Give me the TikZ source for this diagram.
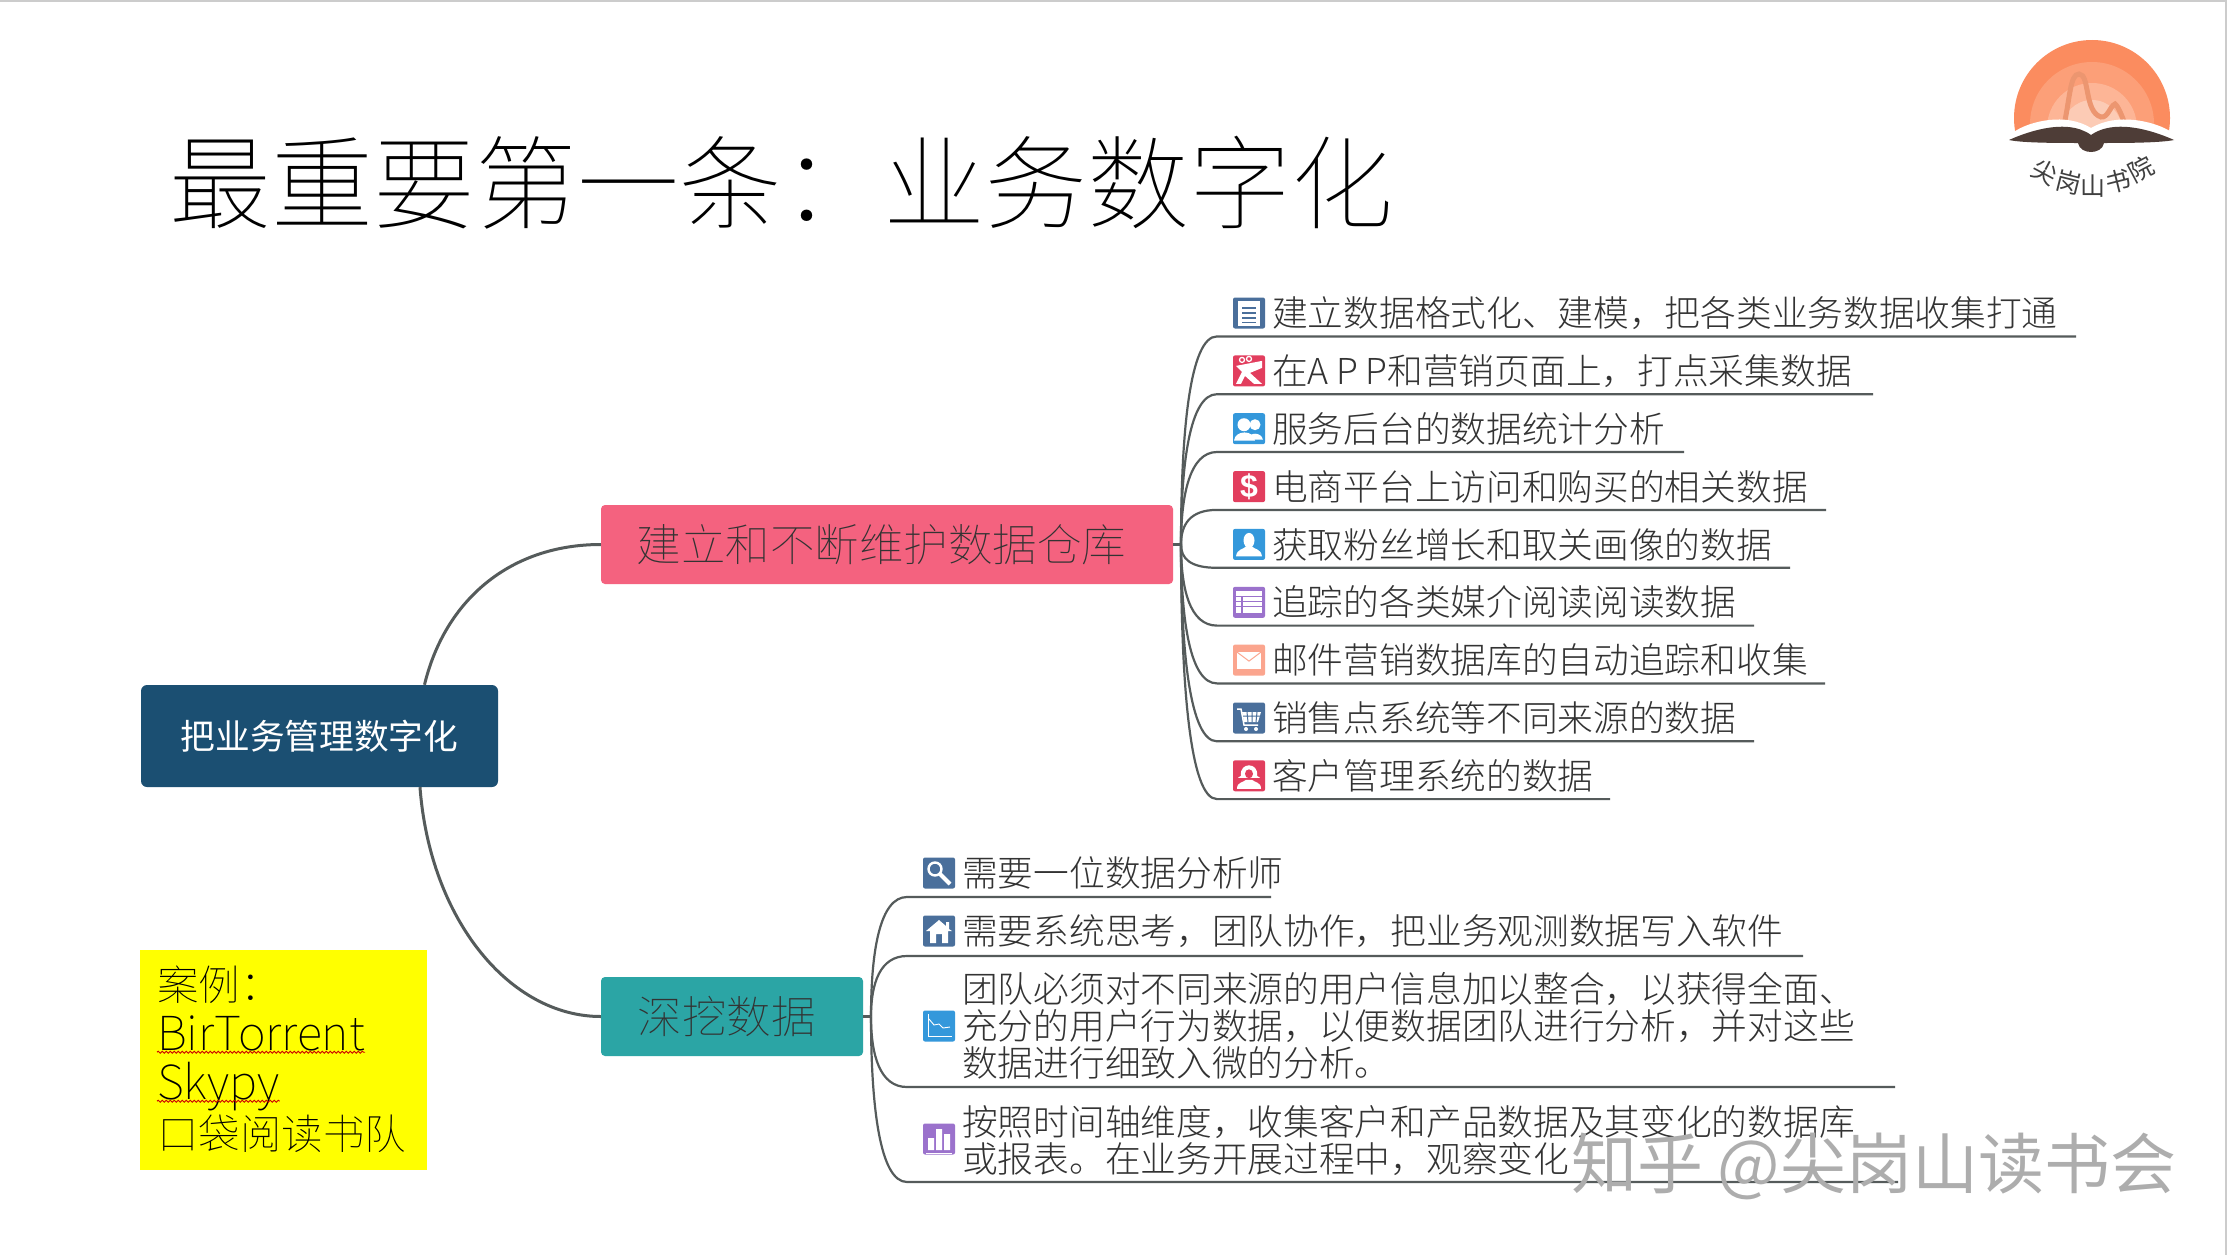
\documentclass[tikz,border=0pt]{standalone}
\usepackage{fontspec}
\setmainfont{Noto Sans CJK SC Light}
\newfontfamily\thinfont{Noto Sans CJK SC Thin}
\newfontfamily\plainfont{Noto Sans CJK SC}
\newfontfamily\glyphfont{Liberation Sans}
\usetikzlibrary{positioning, decorations.pathmorphing}
\definecolor{rootblue}{HTML}{1B4F72}
\definecolor{rosered}{HTML}{F4627F}
\definecolor{tealgreen}{HTML}{2BA5A5}
\definecolor{linkgray}{HTML}{555B5B}
\definecolor{slateicon}{HTML}{4A6F9B}
\definecolor{redicon}{HTML}{E23E5E}
\definecolor{blueicon}{HTML}{3498DB}
\definecolor{purpleicon}{HTML}{9B72CC}
\definecolor{salmonicon}{HTML}{FBA58E}
\definecolor{bookbrown}{HTML}{4E3D37}
\definecolor{caseyellow}{HTML}{FFFF00}
\definecolor{sunA}{HTML}{FB8C5F}
\definecolor{sunB}{HTML}{FC9F78}
\definecolor{sunC}{HTML}{FDB596}
\definecolor{sunD}{HTML}{FCCBB5}
\definecolor{ridge}{HTML}{EC9670}
\tikzstyle{link} = [draw=linkgray, line width=2.2pt]
\tikzstyle{trunk} = [draw=linkgray, line width=3pt]
\tikzstyle{rootbox} = [fill=rootblue, text=white, rounded corners=6pt, minimum width=357pt, minimum height=102pt, inner sep=0pt, font=\plainfont\fontsize{34.7}{40}\selectfont]
\tikzstyle{branchbox} = [rounded corners=4pt, minimum height=79pt, inner sep=0pt, text=black!80, font=\thinfont\fontsize{44.5}{50}\selectfont]
\tikzstyle{iconbox} = [rounded corners=2pt, minimum width=32pt, minimum height=31pt, inner sep=0pt]
\tikzstyle{leaf} = [anchor=west, inner sep=0pt, align=left, text=black!80, font=\fontsize{35.7}{37}\selectfont]
\tikzstyle{casetext} = [anchor=base west, inner sep=0pt, text depth=2pt, font=\thinfont\fontsize{41.5}{44}\selectfont]
\tikzstyle{logotext} = [text=black!75, inner sep=0pt, font=\plainfont\fontsize{25}{25}\selectfont]
\tikzstyle{wavy} = [draw=red!80!black, line width=0.9pt, decorate, decoration={snake, segment length=4pt, amplitude=1pt}]
\newcommand{\iconnote}[1]{\begin{scope}[shift={(#1.center)}]
	\fill[white] (-11,-12) rectangle (11,13);
	\draw[slateicon, line width=1.5pt] (-7,-5) -- (7,-5) (-7,0) -- (7,0) (-7,5) -- (7,5) (-7,9.5) -- (7,9.5);
\end{scope}}
\newcommand{\icongift}[1]{\begin{scope}[shift={(#1.center)}]
	\fill[white] (-13,-5) -- (13,-10) -- (13,-3) -- (1,2) -- (13,13) -- (5,13) -- (-4,5) -- (-8,13) -- (-13,13) -- (-7,1) -- cycle;
	\draw[white, line width=1.3pt] (-7,-11) circle (2.5) (0,-12) circle (2.5);
\end{scope}}
\newcommand{\iconpeople}[1]{\begin{scope}[shift={(#1.center)}]
	\fill[white] (6,-4) circle (5.5) (-1,11) .. controls (0,3) and (12,3) .. (14,11) -- cycle;
	\fill[white] (-5,-4) circle (6.5) (-15,12) .. controls (-14,1) and (5,1) .. (6,12) -- cycle;
\end{scope}}
\newcommand{\iconperson}[1]{\begin{scope}[shift={(#1.center)}]
	\fill[white] (0,-4) ellipse (5.5 and 7.5);
	\fill[white] (-13,12) .. controls (-12,4) and (-5,5) .. (-3,2) -- (3,2) .. controls (5,5) and (12,4) .. (13,12) -- cycle;
\end{scope}}
\newcommand{\icontable}[1]{\begin{scope}[shift={(#1.center)}]
	\fill[white] (-13,-11) rectangle (13,11);
	\draw[purpleicon, line width=1.3pt] (-13,-6) -- (13,-6) (-13,-1) -- (13,-1) (-13,4) -- (13,4) (-7,-6) -- (-7,11);
\end{scope}}
\newcommand{\iconmail}[1]{\begin{scope}[shift={(#1.center)}]
	\fill[white] (-12,-8) rectangle (12,9);
	\draw[salmonicon, line width=1pt] (-12,-8) -- (0,1) -- (12,-8);
\end{scope}}
\newcommand{\iconcart}[1]{\begin{scope}[shift={(#1.center)}]
	\draw[white, line width=1.5pt] (-12,-9) -- (-8,-9) -- (-5,7) -- (9,7);
	\fill[white] (-7,-6) -- (12,-6) -- (9,4) -- (-5,4) -- cycle;
	\draw[slateicon, line width=1pt] (-6,-2) -- (11,-2) (-2,-6) -- (-1,4) (3,-6) -- (3,4) (8,-6) -- (7,4);
	\fill[white] (-3,11) circle (2) (7,11) circle (2);
\end{scope}}
\newcommand{\iconwoman}[1]{\begin{scope}[shift={(#1.center)}]
	\fill[white] (-8,0) .. controls (-10,-14) and (10,-14) .. (8,0) -- (11,2) -- (-11,2) -- cycle;
	\fill[redicon] (0,-2) ellipse (4 and 4.5);
	\fill[white] (-12,13) .. controls (-12,6) and (-6,7) .. (-3,4) -- (3,4) .. controls (6,7) and (12,6) .. (12,13) -- cycle;
\end{scope}}
\newcommand{\iconsearch}[1]{\begin{scope}[shift={(#1.center)}]
	\draw[white, line width=2.4pt] (-4,-4) circle (6.5);
	\draw[white, line width=4pt] (1,1) -- (11,11);
\end{scope}}
\newcommand{\iconhome}[1]{\begin{scope}[shift={(#1.center)}]
	\fill[white] (-13,0) -- (0,-11) -- (7,-5) -- (7,-9) -- (10,-9) -- (10,-2) -- (13,0) -- (9,0) -- (9,12) -- (3,12) -- (3,3) -- (-3,3) -- (-3,12) -- (-9,12) -- (-9,0) -- cycle;
\end{scope}}
\newcommand{\iconchart}[1]{\begin{scope}[shift={(#1.center)}]
	\draw[white, line width=0.9pt] (-11,-12) -- (-11,10) -- (13,10);
	\draw[white, line width=0.9pt] (-10,-7) -- (-5,-1) -- (0,-2) -- (4,2) -- (11,1);
\end{scope}}
\newcommand{\iconbars}[1]{\begin{scope}[shift={(#1.center)}]
	\fill[white] (-11,-1) rectangle (-5,11) (-3,-10) rectangle (3,11) (5,-5) rectangle (11,11);
	\draw[white, line width=0.8pt] (-13,14) -- (13,14);
\end{scope}}
\begin{document}
\begin{tikzpicture}[x=1pt, y=-1pt]
	\useasboundingbox (0,0) rectangle (2229,1255);
	\fill[white] (0,0) rectangle (2229,1255);
	\draw[gray!40, line width=1.5pt] (0,1) -- (2226,1) -- (2226,1255);

	\node[anchor=west, inner sep=0pt, font=\thinfont\fontsize{102}{102}\selectfont] (title) at (169,183) {最重要第一条：业务数字化};

	\begin{scope}
		\clip (2000,30) rectangle (2180,135);
		\fill[sunA] (2092,118) circle (78);
		\fill[sunB] (2092,124) circle (62);
		\fill[sunC] (2092,128) circle (45);
		\fill[sunD] (2092,130) circle (30);
		\draw[ridge, line width=5pt] (2064,125) .. controls (2070,98) and (2070,74) .. (2079,74) .. controls (2090,74) and (2084,112) .. (2101,117) .. controls (2108,118) and (2110,106) .. (2115,104) .. controls (2118,106) and (2122,116) .. (2125,124);
	\end{scope}
	\fill[white] (2005,136) -- (2017,130) .. controls (2030,122) and (2065,112) .. (2091,128) .. controls (2118,112) and (2154,122) .. (2168,130) -- (2180,136) -- (2180,155) -- (2005,155) -- cycle;
	\fill[bookbrown] (2009,140) .. controls (2020,135) and (2065,116) .. (2091,135) .. controls (2118,116) and (2163,135) .. (2174,140) .. controls (2160,143) and (2120,143) .. (2104,143) .. controls (2102,155) and (2080,155) .. (2078,143) .. controls (2060,143) and (2022,143) .. (2009,140) -- cycle;
	\node[logotext, rotate=-28] (logoa) at (2045,172) {尖};
	\node[logotext, rotate=-14] (logob) at (2069,182) {岗};
	\node[logotext] (logoc) at (2093,186) {山};
	\node[logotext, rotate=14] (logod) at (2118,181) {书};
	\node[logotext, rotate=28] (logoe) at (2141,169) {院};

	\node[rootbox] (root) at (319.5,736) {把业务管理数字化};
	\node[branchbox, fill=rosered, minimum width=572pt] (branchA) at (887,544.5) {建立和不断维护数据仓库\kern11pt};
	\node[branchbox, fill=tealgreen, minimum width=262pt] (branchB) at (732,1016.5) {深挖数据\kern11pt};
	\draw[trunk] (root.26) .. controls (445,600) and (510,544.5) .. (branchA.west);
	\draw[trunk] (root.-27) .. controls (430,920) and (510,1016.5) .. (branchB.west);

	\coordinate (hubA) at (1181,544.5);
	\draw[link] (branchA.east) -- (hubA);
	\node[iconbox, fill=slateicon] (icA) at (1249,313) {};
	\node[iconbox, fill=redicon] (icB) at (1249,370.9) {};
	\node[iconbox, fill=blueicon] (icC) at (1249,428.7) {};
	\node[iconbox, fill=redicon] (icD) at (1249,486.6) {};
	\node[iconbox, fill=blueicon] (icE) at (1249,544.4) {};
	\node[iconbox, fill=purpleicon] (icF) at (1249,602.3) {};
	\node[iconbox, fill=salmonicon] (icG) at (1249,660.1) {};
	\node[iconbox, fill=slateicon] (icH) at (1249,718) {};
	\node[iconbox, fill=redicon] (icI) at (1249,775.8) {};
	\iconnote{icA}
	\icongift{icB}
	\iconpeople{icC}
	\node[text=white, inner sep=0pt, font=\glyphfont\bfseries\fontsize{32}{32}\selectfont] (dollar) at (icD) {\$};
	\iconperson{icE}
	\icontable{icF}
	\iconmail{icG}
	\iconcart{icH}
	\iconwoman{icI}
	\node[leaf] (leafA) at (1272,313) {建立数据格式化、建模，把各类业务数据收集打通};
	\node[leaf] (leafB) at (1272,370.9) {在{\addfontfeature{LetterSpace=21}APP}和营销页面上，打点采集数据};
	\node[leaf] (leafC) at (1272,428.7) {服务后台的数据统计分析};
	\node[leaf] (leafD) at (1272,486.6) {电商平台上访问和购买的相关数据};
	\node[leaf] (leafE) at (1272,544.4) {获取粉丝增长和取关画像的数据};
	\node[leaf] (leafF) at (1272,602.3) {追踪的各类媒介阅读阅读数据};
	\node[leaf] (leafG) at (1272,660.1) {邮件营销数据库的自动追踪和收集};
	\node[leaf] (leafH) at (1272,718) {销售点系统等不同来源的数据};
	\node[leaf] (leafI) at (1272,775.8) {客户管理系统的数据};
	\coordinate (endA) at (2076,336.4);
	\coordinate (endB) at (1873,394.2);
	\coordinate (endC) at (1684,452);
	\coordinate (endD) at (1826,509.9);
	\coordinate (endE) at (1790,567.8);
	\coordinate (endF) at (1754,625.6);
	\coordinate (endG) at (1825,683.4);
	\coordinate (endH) at (1754,741.3);
	\coordinate (endI) at (1610,799.1);
	\draw[link] (hubA) .. controls +(0,-114) and (1190,336.4) .. (1217,336.4) -- (endA);
	\draw[link] (hubA) .. controls +(0,-82) and (1190,394.2) .. (1217,394.2) -- (endB);
	\draw[link] (hubA) .. controls +(0,-50) and (1190,452) .. (1217,452) -- (endC);
	\draw[link] (hubA) .. controls +(0,-20) and (1190,509.9) .. (1217,509.9) -- (endD);
	\draw[link] (hubA) .. controls +(0,14) and (1190,567.8) .. (1217,567.8) -- (endE);
	\draw[link] (hubA) .. controls +(0,45) and (1190,625.6) .. (1217,625.6) -- (endF);
	\draw[link] (hubA) .. controls +(0,76) and (1190,683.4) .. (1217,683.4) -- (endG);
	\draw[link] (hubA) .. controls +(0,108) and (1190,741.3) .. (1217,741.3) -- (endH);
	\draw[link] (hubA) .. controls +(0,140) and (1190,799.1) .. (1217,799.1) -- (endI);

	\coordinate (hubB) at (871,1016.5);
	\draw[link] (branchB.east) -- (hubB);
	\node[iconbox, fill=slateicon] (icJ) at (939,873) {};
	\node[iconbox, fill=slateicon] (icK) at (939,931) {};
	\node[iconbox, fill=blueicon] (icL) at (939,1026) {};
	\node[iconbox, fill=purpleicon] (icM) at (939,1139) {};
	\iconsearch{icJ}
	\iconhome{icK}
	\iconchart{icL}
	\iconbars{icM}
	\node[leaf] (leafJ) at (962,873) {需要一位数据分析师};
	\node[leaf] (leafK) at (962,931) {需要系统思考，团队协作，把业务观测数据写入软件};
	\node[leaf] (leafL) at (962,1026) {团队必须对不同来源的用户信息加以整合，以获得全面、\\充分的用户行为数据，以便数据团队进行分析，并对这些\\数据进行细致入微的分析。};
	\node[leaf] (leafM) at (962,1141) {按照时间轴维度，收集客户和产品数据及其变化的数据库\\或报表。在业务开展过程中，观察变化};
	\coordinate (endJ) at (1271,897);
	\coordinate (endK) at (1803,956);
	\coordinate (endL) at (1895,1087);
	\coordinate (endM) at (1898,1182);
	\draw[link] (hubB) .. controls +(0,-66) and (880,897) .. (907,897) -- (endJ);
	\draw[link] (hubB) .. controls +(0,-33) and (880,956) .. (907,956) -- (endK);
	\draw[link] (hubB) .. controls +(0,39) and (880,1087) .. (907,1087) -- (endL);
	\draw[link] (hubB) .. controls +(0,91) and (880,1182) .. (907,1182) -- (endM);

	\node[fill=caseyellow, minimum width=287pt, minimum height=220pt, inner sep=0pt] (casebox) at (283.5,1060) {};
	\node[casetext] (caseA) at (157,1000) {案例：};
	\node[casetext, font=\thinfont\fontsize{47}{47}\selectfont] (caseB) at (157,1050) {BirTorrent};
	\node[casetext, font=\thinfont\fontsize{47}{47}\selectfont] (caseC) at (157,1099) {Skypy};
	\node[casetext] (caseD) at (157,1149) {口袋阅读书队};
	\draw[wavy] (caseB.south west) -- (caseB.south east);
	\draw[wavy] (caseC.south west) -- (caseC.south east);

	\node[anchor=west, inner sep=0pt, text=black!32, font=\plainfont\fontsize{66}{66}\selectfont] (mark) at (1571,1166) {知乎 @尖岗山读书会};
\end{tikzpicture}
\end{document}
